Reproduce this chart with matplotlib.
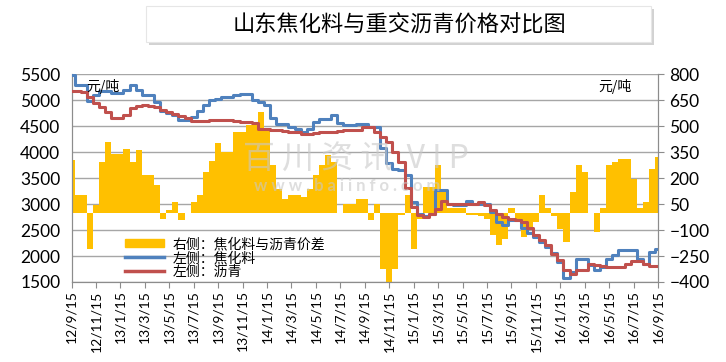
import matplotlib
matplotlib.use("Agg")
import matplotlib.pyplot as plt
from matplotlib.patches import Rectangle, Patch
from matplotlib.lines import Line2D
import numpy as np

plt.rcParams['font.family'] = ['Lato', 'Noto Sans CJK SC', 'DejaVu Sans']

titulo = "山东焦化料与重交沥青价格对比图"

# fechas cada dos meses (eje x)
fechas = ["12/9/15", "12/11/15", "13/1/15", "13/3/15", "13/5/15", "13/7/15",
          "13/9/15", "13/11/15", "14/1/15", "14/3/15", "14/5/15", "14/7/15",
          "14/9/15", "14/11/15", "15/1/15", "15/3/15", "15/5/15", "15/7/15",
          "15/9/15", "15/11/15", "16/1/15", "16/3/15", "16/5/15", "16/7/15",
          "16/9/15"]

# valores cada medio mes
jiaohualiao = [5480, 5300, 5300, 4980, 5100, 5180, 5180, 5130, 5130, 5200,
               5290, 5200, 5100, 5100, 4970, 4800, 4760, 4720, 4620, 4610,
               4680, 4800, 4900, 5000, 5020, 5060, 5060, 5100, 5110, 5115,
               5000, 4960, 4900, 4650, 4550, 4550, 4490, 4440, 4390, 4450,
               4580, 4645, 4645, 4720, 4560, 4520, 4520, 4540, 4540, 4485,
               4485, 4070, 3800, 3680, 3650, 3555, 3040, 2800, 2780, 2815,
               3270, 3270, 3010, 2980, 2980, 3050, 3010, 3010, 3000, 2850,
               2650, 2600, 2690, 2690, 2530, 2450, 2370, 2270, 2180, 2050,
               1890, 1570, 1700, 1950, 1950, 1825, 1730, 1790, 1950, 2015,
               2110, 2110, 2110, 1950, 1855, 2080, 2140]

liqing = [5170, 5170, 5150, 5060, 4950, 4870, 4770, 4660, 4650, 4720,
          4840, 4880, 4900, 4890, 4860, 4820, 4780, 4740, 4700, 4650,
          4600, 4600, 4600, 4610, 4620, 4615, 4615, 4600, 4580, 4580,
          4560, 4450, 4450, 4420, 4420, 4400, 4390, 4380, 4340, 4340,
          4370, 4380, 4380, 4380, 4400, 4430, 4430, 4430, 4485, 4485,
          4390, 4290, 4200, 4005, 3810, 3300, 2950, 2790, 2750, 2800,
          2910, 3050, 3010, 3010, 3010, 3010, 3010, 3040, 2980, 2880,
          2815, 2750, 2720, 2690, 2655, 2530, 2400, 2300, 2205, 2045,
          1920, 1730, 1660, 1730, 1730, 1855, 1835, 1800, 1790, 1790,
          1790, 1855, 1905, 1905, 1855, 1810, 1810]

jiacha = [303, 101, 101, -207, 43, 293, 409, 341, 341, 370,
          293, 361, 216, 216, 159, -34, 15, 62, -43, 0,
          62, 101, 236, 300, 400, 351, 351, 467, 467, 505,
          505, 582, 486, 274, 139, 81, 101, 101, 91, 139,
          216, 274, 332, 293, 0, 52, 52, 81, 82, -44,
          53, -323, -400, -323, -15, 101, -207, -34, 149, 149,
          274, 120, 25, 25, 25, -15, -15, -20, -34, -130,
          -188, -150, 30, -34, -140, -92, -53, 101, 25, -20,
          -92, -169, 120, 274, 236, 0, -111, 25, 274, 293,
          312, 312, 197, 25, 62, 255, 322]

t = np.arange(len(jiaohualiao)) * 0.5
x_ticks = np.arange(len(fechas)) * 2

fig = plt.figure(figsize=(7.26, 3.62), dpi=100)
ax = fig.add_axes([0.0985, 0.221, 0.808, 0.574])
ax2 = ax.twinx()

gris = '#8C8C8C'

# barras (eje derecho)
ax.bar(t, jiacha, width=0.5, color='#FFC000', linewidth=0, zorder=2)
ax.set_ylim(-400, 800)
ax.set_yticks(range(-400, 801, 150))
ax.yaxis.tick_right()
ax.set_axisbelow(True)
ax.yaxis.grid(True, color='#A6A6A6', linewidth=1)
ax.set_xlim(0, 48)
ax.set_xticks(x_ticks)
ax.set_xticklabels(fechas, rotation=90, fontsize=10)
ax.tick_params(axis='x', direction='out', length=4, color=gris, pad=2)
ax.tick_params(axis='y', direction='out', length=4, color=gris, labelsize=12.5, pad=4)

# lineas (eje izquierdo)
ax2.plot(t, jiaohualiao, color='#4F81BD', linewidth=2.2, drawstyle='steps-mid', zorder=3)
ax2.plot(t, liqing, color='#C0504D', linewidth=2.2, drawstyle='steps-mid', zorder=4)
ax2.set_ylim(1500, 5500)
ax2.set_yticks(range(1500, 5501, 500))
ax2.yaxis.tick_left()
ax2.tick_params(axis='y', length=0, labelsize=12.5, pad=8)

for a in (ax, ax2):
    a.spines['top'].set_visible(False)
    for s in ('left', 'right', 'bottom'):
        a.spines[s].set_color(gris)

# unidades
fig.text(86 / 726, 1 - 86 / 362, "元/吨", fontsize=10, family=['Noto Sans CJK SC'], va='center')
fig.text(598 / 726, 1 - 86 / 362, "元/吨", fontsize=10, family=['Noto Sans CJK SC'], va='center')

# marca de agua
ax2.text(0.485, 0.59, "百 川 资 讯  V I P", transform=ax.transAxes, fontsize=23,
         color='#C8C8C8', alpha=0.6, ha='center', va='center', zorder=6,
         family=['Noto Sans CJK SC'])
ax2.text(0.47, 0.46, "w w w . b a i i n f o . c o m", transform=ax.transAxes, fontsize=12,
         color='#C8C8C8', alpha=0.6, ha='center', va='center', zorder=6, fontweight='bold')

# leyenda
handles = [Patch(color='#FFC000'),
           Line2D([], [], color='#4F81BD', linewidth=2.5),
           Line2D([], [], color='#C0504D', linewidth=2.5)]
labels = ["右侧：焦化料与沥青价差", "左侧：焦化料", "左侧：沥青"]
leg = ax2.legend(handles, labels, loc='upper left', bbox_to_anchor=(118 / 726, 1 - 230 / 362),
                 bbox_transform=fig.transFigure, frameon=False,
                 prop={'family': ['Noto Sans CJK SC'], 'size': 10},
                 handlelength=2.8, handleheight=0.6, labelspacing=0.0, borderpad=0,
                 handletextpad=0.6)
leg.set_zorder(7)

# titulo en recuadro con sombra
fig.patches.append(Rectangle((149 / 726, 1 - 45 / 362), 505 / 726, 36 / 362,
                             transform=fig.transFigure, facecolor='#BFBFBF',
                             edgecolor='none', alpha=0.7, zorder=0))
fig.patches.append(Rectangle((146 / 726, 1 - 42 / 362), 505 / 726, 36 / 362,
                             transform=fig.transFigure, facecolor='white',
                             edgecolor='#E6E6E6', linewidth=0.8, zorder=1))
fig.text(399 / 726, 1 - 25 / 362, titulo, fontsize=16, ha='center', va='center',
         family=['Noto Sans CJK SC'])

plt.savefig("out.png", dpi=100)
